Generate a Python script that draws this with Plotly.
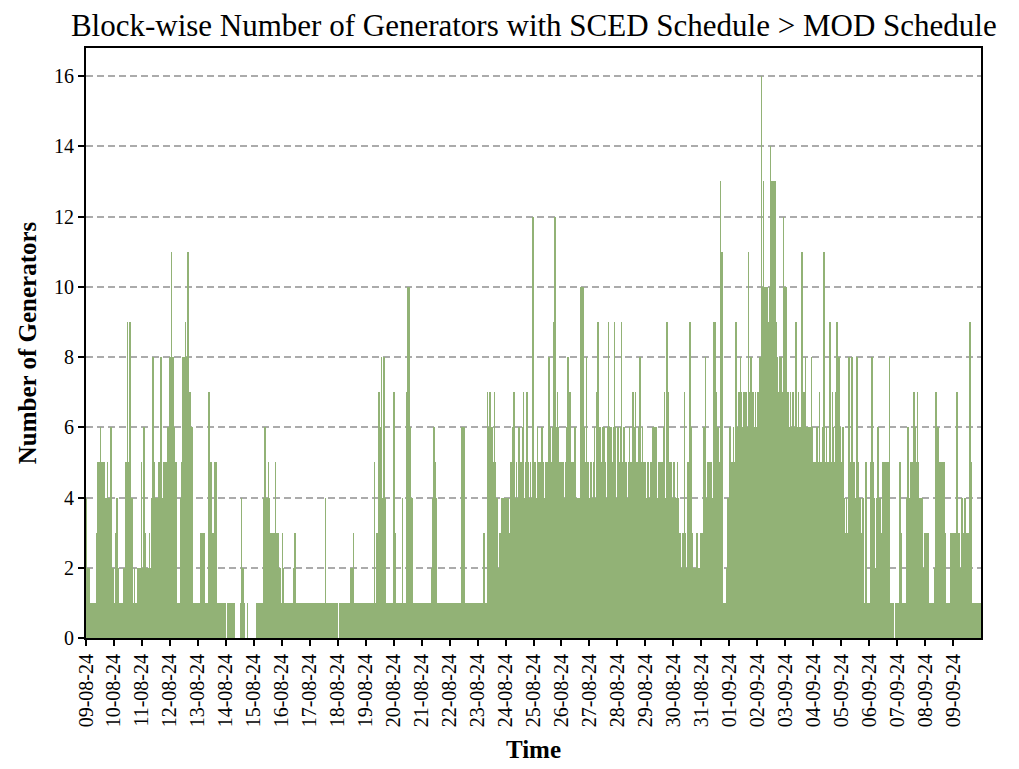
import datetime as dt
import plotly.graph_objects as go

# Hourly block-group values (number of generators), one list per day
start_date = dt.datetime(2024, 8, 9)
day_labels = ["09-08-24", "10-08-24", "11-08-24", "12-08-24", "13-08-24", "14-08-24",
              "15-08-24", "16-08-24", "17-08-24", "18-08-24", "19-08-24", "20-08-24",
              "21-08-24", "22-08-24", "23-08-24", "24-08-24", "25-08-24", "26-08-24",
              "27-08-24", "28-08-24", "29-08-24", "30-08-24", "31-08-24", "01-09-24",
              "02-09-24", "03-09-24", "04-09-24", "05-09-24", "06-09-24", "07-09-24",
              "08-09-24", "09-09-24"]

d09_08 = [4, 2, 2, 1, 1, 1, 1, 1, 1, 3, 5, 5, 6, 5, 4, 5, 4, 4, 5, 4, 2, 6, 2, 2]
d10_08 = [1, 3, 4, 2, 1, 1, 1, 1, 2, 1, 5, 9, 5, 9, 4, 4, 1, 2, 1, 1, 2, 2, 2, 5]
d11_08 = [2, 6, 3, 2, 2, 2, 3, 2, 4, 8, 5, 4, 4, 4, 5, 4, 8, 4, 5, 5, 5, 5, 6, 8]
d12_08 = [8, 11, 8, 6, 5, 5, 1, 1, 1, 4, 5, 8, 8, 9, 8, 11, 7, 7, 6, 6, 1, 1, 1, 1]
d13_08 = [1, 1, 3, 3, 2, 3, 1, 1, 1, 7, 5, 5, 3, 3, 5, 5, 1, 1, 1, 1, 1, 0, 1, 1]
d14_08 = [0, 1, 1, 1, 1, 1, 1, 1, 0, 0, 0, 0, 1, 4, 2, 1, 0, 0, 1, 0, 0, 0, 0, 0]
d15_08 = [0, 0, 1, 1, 1, 1, 1, 1, 4, 6, 4, 4, 5, 4, 3, 2, 3, 3, 5, 3, 3, 2, 2, 1]
d16_08 = [3, 2, 1, 1, 1, 1, 1, 1, 1, 1, 2, 3, 1, 1, 1, 1, 1, 1, 1, 1, 1, 1, 1, 1]
d17_08 = [1, 1, 1, 1, 1, 1, 1, 1, 1, 1, 1, 1, 1, 4, 1, 1, 1, 1, 1, 1, 1, 1, 1, 1]
d18_08 = [0, 1, 1, 1, 1, 1, 1, 1, 1, 1, 1, 2, 2, 3, 1, 1, 0, 1, 1, 1, 1, 1, 1, 1]
d19_08 = [1, 1, 1, 1, 1, 1, 1, 5, 1, 3, 1, 7, 6, 8, 4, 8, 4, 1, 1, 1, 1, 1, 1, 1]
d20_08 = [7, 3, 1, 1, 1, 1, 1, 4, 1, 1, 1, 7, 10, 10, 6, 4, 1, 1, 1, 1, 1, 1, 1, 1]
d21_08 = [1, 1, 1, 1, 1, 1, 1, 1, 2, 4, 6, 5, 4, 1, 1, 1, 1, 1, 1, 1, 1, 1, 1, 1]
d22_08 = [1, 1, 1, 1, 1, 1, 1, 1, 1, 1, 6, 5, 6, 1, 1, 1, 1, 1, 1, 1, 1, 1, 1, 1]
d23_08 = [1, 1, 1, 1, 1, 3, 1, 1, 7, 6, 7, 5, 6, 5, 7, 5, 4, 1, 2, 3, 4, 4, 4, 3]
d24_08 = [4, 4, 4, 3, 5, 4, 6, 7, 4, 5, 4, 6, 5, 5, 6, 7, 4, 5, 7, 5, 4, 5, 4, 12]
d25_08 = [4, 5, 4, 6, 5, 5, 5, 6, 5, 4, 5, 5, 5, 8, 6, 5, 6, 9, 12, 6, 7, 6, 5, 5]
d26_08 = [5, 5, 4, 5, 6, 8, 6, 7, 5, 5, 5, 6, 4, 4, 4, 4, 10, 5, 10, 6, 5, 8, 5, 4]
d27_08 = [4, 5, 4, 5, 6, 4, 7, 9, 6, 6, 5, 6, 6, 5, 4, 6, 9, 6, 6, 5, 6, 9, 6, 4]
d28_08 = [6, 5, 6, 9, 5, 6, 5, 5, 4, 5, 6, 5, 5, 7, 6, 7, 5, 5, 6, 8, 5, 6, 5, 5]
d29_08 = [4, 4, 5, 4, 5, 5, 6, 5, 6, 6, 4, 5, 5, 4, 5, 6, 7, 4, 9, 7, 5, 5, 5, 4]
d30_08 = [5, 4, 4, 5, 4, 3, 1, 2, 3, 7, 3, 2, 5, 5, 9, 6, 3, 2, 2, 2, 3, 2, 2, 3]
d31_08 = [3, 3, 6, 8, 4, 5, 4, 5, 5, 4, 9, 9, 7, 5, 6, 5, 13, 11, 1, 1, 1, 2, 4, 4]
d01_09 = [6, 5, 5, 6, 5, 9, 5, 6, 7, 8, 7, 6, 7, 7, 7, 6, 11, 7, 8, 7, 7, 6, 7, 6]
d02_09 = [7, 7, 8, 16, 10, 13, 10, 10, 10, 9, 10, 14, 13, 13, 10, 13, 9, 8, 7, 8, 8, 7, 12, 10]
d03_09 = [10, 6, 7, 6, 7, 6, 7, 6, 6, 9, 6, 7, 6, 6, 11, 7, 7, 8, 6, 6, 5, 6, 8, 6]
d04_09 = [5, 5, 5, 6, 5, 7, 5, 5, 6, 11, 5, 6, 5, 5, 9, 5, 7, 6, 5, 7, 9, 8, 8, 6]
d05_09 = [5, 6, 4, 3, 4, 3, 8, 5, 3, 8, 5, 5, 4, 8, 5, 4, 4, 3, 4, 1, 1, 5, 1, 1]
d06_09 = [1, 5, 8, 5, 4, 2, 4, 6, 4, 4, 3, 5, 5, 5, 4, 5, 5, 8, 1, 1, 1, 0, 1, 1]
d07_09 = [1, 1, 5, 3, 1, 1, 1, 1, 4, 6, 4, 5, 5, 5, 7, 6, 5, 7, 5, 4, 3, 4, 2, 3]
d08_09 = [3, 3, 3, 1, 1, 1, 1, 1, 2, 7, 6, 6, 5, 5, 5, 3, 5, 3, 1, 1, 1, 1, 3, 3]
d09_09 = [3, 3, 3, 7, 3, 3, 2, 4, 3, 3, 4, 3, 3, 3, 9, 5, 1, 1, 1, 1, 1, 1, 1, 1]

days = [d09_08, d10_08, d11_08, d12_08, d13_08, d14_08, d15_08, d16_08, d17_08,
        d18_08, d19_08, d20_08, d21_08, d22_08, d23_08, d24_08, d25_08, d26_08,
        d27_08, d28_08, d29_08, d30_08, d31_08, d01_09, d02_09, d03_09, d04_09,
        d05_09, d06_09, d07_09, d08_09, d09_09]

x_vals, y_vals = [], []
for i, day in enumerate(days):
    for h, v in enumerate(day):
        x_vals.append(start_date + dt.timedelta(days=i, hours=h, minutes=30))
        y_vals.append(v)

tick_dates = [start_date + dt.timedelta(days=i) for i in range(len(day_labels))]

FONT = "Liberation Serif, Times New Roman, serif"

fig = go.Figure(go.Bar(
    x=x_vals, y=y_vals,
    width=3600000 * 0.55,
    marker=dict(color="#92B276", line=dict(width=0)),
))

fig.update_layout(
    width=1019, height=769,
    margin=dict(l=78, r=46, t=40, b=139, autoexpand=False),
    paper_bgcolor="white", plot_bgcolor="white",
    font=dict(family=FONT, color="black", size=21),
    showlegend=False,
    bargap=0,
    title=dict(text="Block-wise Number of Generators with SCED Schedule > MOD Schedule",
               x=0.516, xanchor="center", y=0.978, yanchor="middle",
               font=dict(family=FONT, size=31, color="black")),
)

fig.update_xaxes(
    type="date", automargin=False,
    range=[start_date, start_date + dt.timedelta(days=32)],
    tickmode="array", tickvals=tick_dates, ticktext=day_labels,
    tickangle=-90, ticks="outside", ticklen=6, tickwidth=1.5, tickcolor="black",
    tickfont=dict(family=FONT, size=20, color="black"),
    showline=True, linecolor="black", linewidth=2, mirror=True,
    showgrid=False, zeroline=False,
    title=dict(text="<b>Time</b>", font=dict(family=FONT, size=25, color="black"), standoff=14),
)

fig.update_yaxes(
    range=[0, 16.8], automargin=False,
    tickmode="array", tickvals=[0, 2, 4, 6, 8, 10, 12, 14, 16],
    ticks="outside", ticklen=6, tickwidth=1.5, tickcolor="black",
    tickfont=dict(family=FONT, size=20, color="black"),
    showline=True, linecolor="black", linewidth=2, mirror=True,
    showgrid=True, gridcolor="#ababab", griddash="7px,4px", gridwidth=1.5,
    zeroline=False,
    title=dict(text="<b>Number of Generators</b>", font=dict(family=FONT, size=25, color="black"), standoff=10),
)

fig.write_html("out.html")
